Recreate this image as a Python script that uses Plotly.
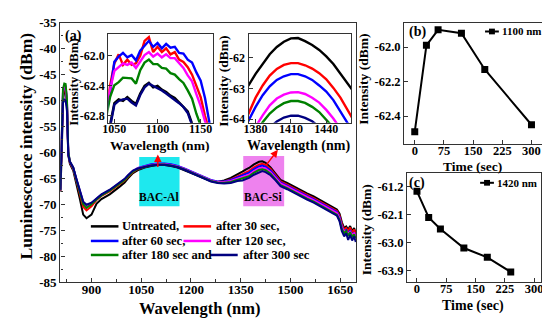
import plotly.graph_objects as go

# ---------------- main spectra (panel a) ----------------
W = [806, 810, 814, 818, 822, 826, 830, 835, 845, 855, 865, 875, 885, 900, 915, 930, 955, 985,
     1000, 1010, 1025, 1040, 1060, 1080, 1100, 1120, 1140, 1160, 1180, 1200, 1220, 1240, 1260, 1280,
     1300, 1320, 1340, 1355, 1365, 1375, 1390, 1405, 1415, 1425, 1440, 1455, 1470, 1490, 1510, 1530,
     1550, 1570, 1590, 1610, 1630, 1640, 1648, 1655, 1662, 1668, 1674, 1680, 1686, 1692, 1697]

untreated = [-67.6, -61.0, -50.0, -48.2, -48.0, -51.0, -60.5, -62.2, -63.5, -66.0, -69.0, -72.0, -72.7, -72.0, -69.9, -69.0, -68.1, -66.6,
             -65.8, -65.0, -64.0, -63.4, -62.9, -62.6, -62.45, -62.45, -62.6, -62.9, -63.4, -63.9, -64.4, -65.0, -65.5, -65.7,
             -65.4, -64.9, -64.3, -63.7, -63.3, -63.0, -62.3, -61.8, -61.7, -62.0, -62.9, -64.2, -65.3, -65.9, -66.6, -67.3,
             -67.9, -68.5, -69.2, -69.9, -70.6, -71.0, -71.8, -73.5, -74.6, -74.3, -74.9, -74.2, -75.2, -74.6, -75.6]
s30 = [-67.4, -60.0, -49.0, -47.6, -47.5, -50.5, -60.2, -62.0, -63.2, -65.6, -68.0, -70.5, -71.2, -70.4, -69.2, -68.4, -67.5, -66.0,
       -65.4, -64.7, -63.8, -63.2, -62.75, -62.45, -62.3, -62.3, -62.45, -62.75, -63.25, -63.8, -64.3, -64.9, -65.4, -65.7,
       -65.6, -65.2, -64.6, -64.2, -63.9, -63.6, -62.9, -62.35, -62.2, -62.4, -63.2, -64.4, -65.6, -66.2, -66.9, -67.6,
       -68.2, -68.8, -69.5, -70.2, -70.9, -71.3, -72.2, -73.9, -74.9, -74.6, -75.2, -74.5, -75.5, -74.9, -75.9]
s60 = [-67.3, -59.5, -48.5, -47.3, -47.3, -50.0, -60.0, -61.8, -63.0, -65.3, -67.6, -69.6, -70.2, -69.8, -69.0, -68.2, -67.3, -65.8,
       -65.2, -64.5, -63.6, -63.0, -62.6, -62.3, -62.15, -62.15, -62.3, -62.6, -63.1, -63.65, -64.2, -64.8, -65.3, -65.6,
       -65.6, -65.3, -64.8, -64.5, -64.2, -63.9, -63.2, -62.7, -62.55, -62.75, -63.5, -64.6, -65.8, -66.4, -67.1, -67.8,
       -68.4, -69.0, -69.7, -70.4, -71.1, -71.5, -72.5, -74.3, -75.3, -75.0, -75.8, -75.0, -76.0, -75.4, -76.5]
s120 = [-67.3, -59.5, -48.2, -47.0, -47.2, -50.0, -60.0, -61.8, -63.0, -65.3, -67.6, -69.7, -70.4, -69.9, -69.0, -68.2, -67.3, -65.8,
        -65.2, -64.5, -63.6, -63.05, -62.65, -62.4, -62.25, -62.25, -62.4, -62.7, -63.2, -63.75, -64.3, -64.9, -65.4, -65.7,
        -65.7, -65.5, -65.1, -64.8, -64.6, -64.3, -63.6, -63.1, -62.95, -63.1, -63.8, -64.9, -66.0, -66.6, -67.3, -68.0,
        -68.6, -69.2, -69.9, -70.6, -71.3, -71.7, -72.7, -74.5, -75.2, -75.4, -75.6, -75.3, -75.9, -75.6, -76.3]
s180 = [-67.3, -59.0, -47.8, -46.7, -46.8, -49.6, -59.8, -61.8, -63.0, -65.4, -67.8, -70.0, -70.7, -70.0, -69.1, -68.3, -67.4, -65.9,
        -65.3, -64.6, -63.7, -63.15, -62.75, -62.5, -62.35, -62.35, -62.5, -62.8, -63.3, -63.85, -64.4, -65.0, -65.5, -65.8,
        -65.85, -65.7, -65.3, -65.1, -64.9, -64.6, -63.9, -63.4, -63.25, -63.4, -64.1, -65.2, -66.3, -66.9, -67.6, -68.3,
        -68.9, -69.5, -70.2, -70.9, -71.6, -72.0, -73.0, -74.8, -75.6, -75.2, -76.1, -75.4, -76.3, -75.8, -76.6]
s300 = [-67.2, -60.5, -50.5, -49.8, -50.0, -52.0, -60.5, -61.8, -62.9, -65.2, -67.5, -69.5, -70.1, -69.7, -68.9, -68.1, -67.2, -65.7,
        -65.1, -64.4, -63.5, -63.1, -62.75, -62.5, -62.4, -62.4, -62.55, -62.85, -63.35, -63.9, -64.5, -65.1, -65.6, -65.9,
        -66.0, -65.9, -65.5, -65.4, -65.2, -64.9, -64.3, -63.8, -63.6, -63.8, -64.4, -65.4, -66.5, -67.1, -67.8, -68.5,
        -69.1, -69.7, -70.4, -71.1, -71.8, -72.2, -73.3, -75.2, -76.2, -75.6, -76.9, -75.9, -77.0, -76.2, -77.3]

# ---------------- inset 1 (BAC-Al, around 1100 nm) ----------------
W1 = [1040, 1045, 1050, 1055, 1060, 1065, 1070, 1075, 1080, 1085, 1090, 1095, 1100, 1105, 1110, 1115,
      1120, 1125, 1130, 1135, 1140, 1145, 1150, 1155, 1160, 1165]
i1_untreated = [-63.1, -62.92, -62.63, -62.58, -62.6, -62.55, -62.6, -62.64, -62.5, -62.4, -62.36, -62.42, -62.4,
                -62.45, -62.48, -62.53, -62.56, -62.62, -62.67, -62.74, -62.9, -63.08, -63.22, -63.38, -63.5, -63.6]
i1_s30 = [-62.7, -62.4, -62.1, -61.98, -62.12, -62.05, -62.12, -62.1, -62.0, -61.8, -61.75, -61.95, -61.88,
          -61.95, -61.9, -61.98, -61.95, -62.05, -62.08, -62.15, -62.25, -62.4, -62.55, -62.8, -63.0, -63.2]
i1_s60 = [-62.8, -62.5, -62.08, -62.01, -61.96, -62.02, -61.99, -62.06, -61.93, -61.87, -61.8, -61.88, -61.83,
          -61.9, -61.84, -61.89, -61.88, -61.96, -61.97, -62.05, -62.09, -62.22, -62.33, -62.56, -62.88, -63.2]
i1_s120 = [-62.7, -62.44, -62.2, -62.15, -62.1, -62.12, -62.09, -62.16, -62.08, -61.99, -61.95, -62.01, -61.97,
           -62.02, -61.98, -62.03, -62.03, -62.1, -62.16, -62.26, -62.34, -62.51, -62.67, -62.87, -63.0, -63.2]
i1_s180 = [-62.85, -62.55, -62.39, -62.35, -62.29, -62.29, -62.3, -62.37, -62.19, -62.09, -62.05, -62.11, -62.11,
           -62.16, -62.17, -62.23, -62.25, -62.31, -62.36, -62.46, -62.57, -62.77, -62.95, -63.1, -63.25, -63.4]
i1_s300 = [-63.1, -62.95, -62.65, -62.6, -62.58, -62.57, -62.62, -62.66, -62.52, -62.42, -62.37, -62.4, -62.42,
           -62.46, -62.5, -62.54, -62.58, -62.63, -62.68, -62.76, -62.92, -63.1, -63.25, -63.4, -63.5, -63.6]

# ---------------- inset 2 (BAC-Si, around 1410 nm) ----------------
W2 = [1368, 1374, 1380, 1386, 1392, 1398, 1404, 1410, 1416, 1422, 1428, 1434, 1440, 1446, 1452, 1458, 1464]
i2_untreated = [-63.2, -62.9, -62.52, -62.18, -61.88, -61.64, -61.47, -61.36, -61.35, -61.45, -61.58, -61.74,
                -61.95, -62.2, -62.5, -62.82, -63.15]
i2_s30 = [-64.2, -63.82, -63.3, -62.9, -62.58, -62.36, -62.23, -62.17, -62.17, -62.24, -62.35, -62.5,
          -62.7, -62.98, -63.3, -63.7, -64.1]
i2_s60 = [-64.5, -64.05, -63.6, -63.22, -62.93, -62.72, -62.6, -62.53, -62.53, -62.6, -62.72, -62.9,
          -63.1, -63.38, -63.72, -64.1, -64.5]
i2_s120 = [-65.0, -64.6, -64.25, -63.88, -63.55, -63.33, -63.2, -63.13, -63.12, -63.18, -63.3, -63.46,
           -63.7, -63.98, -64.3, -64.65, -65.0]
i2_s180 = [-65.3, -64.85, -64.45, -64.1, -63.82, -63.62, -63.48, -63.41, -63.41, -63.47, -63.6, -63.77,
           -64.0, -64.28, -64.6, -64.95, -65.3]
i2_s300 = [-65.7, -65.3, -64.9, -64.55, -64.28, -64.08, -63.95, -63.89, -63.89, -63.96, -64.07, -64.23,
           -64.45, -64.72, -65.0, -65.35, -65.7]

# ---------------- panels b and c ----------------
T_B = [0, 30, 60, 120, 180, 300]
I_B = [-62.49, -61.99, -61.90, -61.92, -62.13, -62.45]
T_C = [0, 30, 60, 120, 180, 240]
I_C = [-61.35, -62.19, -62.56, -63.17, -63.47, -63.94]

# tick values
MAIN_X_TICKS = [900, 1050, 1200, 1350, 1500, 1650]
MAIN_Y_TICKS = [-35, -40, -45, -50, -55, -60, -65, -70, -75, -80, -85]
IN1_X_TICKS = [1050, 1100, 1150]
IN1_Y_TICKS = [-62.0, -62.4, -62.8]
IN2_X_TICKS = [1380, 1410, 1440]
IN2_Y_TICKS = [-62, -63, -64]
B_X_TICKS = [0, 75, 150, 225, 300]
B_Y_TICKS = [-62.0, -62.2, -62.4]
C_X_TICKS = [0, 75, 150, 225, 300]
C_Y_TICKS = [-61.2, -62.1, -63.0, -63.9]

LABELS = ["Untreated,", "after 30 sec,", "after 60 sec,", "after 120 sec,", "after 180 sec and", "after 300 sec"]
COLORS = ["#000000", "#FF0000", "#0000FF", "#FF00FF", "#008000", "#000080"]

FONT = "Liberation Serif"
W_PX, H_PX = 550, 322


def X(px):
    return px / W_PX


def Y(py):
    return 1 - py / H_PX


def fmt(vals, dec):
    return [("-" if v < 0 else "") + f"{abs(v):.{dec}f}" for v in vals]


fig = go.Figure()

main_sets = [untreated, s30, s60, s120, s180, s300]
in1_sets = [i1_untreated, i1_s30, i1_s60, i1_s120, i1_s180, i1_s300]
in2_sets = [i2_untreated, i2_s30, i2_s60, i2_s120, i2_s180, i2_s300]

for vals, col in zip(main_sets, COLORS):
    fig.add_trace(go.Scatter(x=W, y=vals, mode="lines", line=dict(color=col, width=2),
                             xaxis="x", yaxis="y", showlegend=False, hoverinfo="skip"))
for vals, col in zip(in1_sets, COLORS):
    fig.add_trace(go.Scatter(x=W1, y=vals, mode="lines", line=dict(color=col, width=2.4),
                             xaxis="x2", yaxis="y2", showlegend=False, hoverinfo="skip"))
for vals, col in zip(in2_sets, COLORS):
    fig.add_trace(go.Scatter(x=W2, y=vals, mode="lines", line=dict(color=col, width=2.4),
                             xaxis="x3", yaxis="y3", showlegend=False, hoverinfo="skip"))

fig.add_trace(go.Scatter(x=T_B, y=I_B, mode="lines+markers", line=dict(color="black", width=2),
                         marker=dict(symbol="square", size=7, color="black"),
                         xaxis="x4", yaxis="y4", showlegend=False))
fig.add_trace(go.Scatter(x=T_C, y=I_C, mode="lines+markers", line=dict(color="black", width=2),
                         marker=dict(symbol="square", size=7, color="black"),
                         xaxis="x5", yaxis="y5", showlegend=False))

FRAME = "#333333"


def ax(domain, rng, anchor, size, tv, tt, **kw):
    d = dict(domain=domain, range=rng, anchor=anchor, showline=True, linecolor=FRAME, linewidth=1.4,
             mirror=True, ticks="inside", ticklen=4, tickwidth=1.2, tickcolor=FRAME, showgrid=False,
             zeroline=False, tickmode="array", tickvals=tv, ticktext=tt,
             tickfont=dict(family=FONT, size=size, color="black", weight="bold"))
    d.update(kw)
    return d


layout = dict(
    width=W_PX, height=H_PX, margin=dict(l=0, r=0, t=0, b=0),
    paper_bgcolor="white", plot_bgcolor="white",
    font=dict(family=FONT, size=13, color="black", weight="bold"),
    xaxis=ax([X(47), X(347)], [806, 1697.5], "y", 13, MAIN_X_TICKS, fmt(MAIN_X_TICKS, 0),
             ticklabelstandoff=-5,
             minor=dict(tickvals=[825, 975, 1125, 1275, 1425, 1575], ticks="inside", ticklen=2.5,
                        tickcolor=FRAME)),
    yaxis=ax([Y(280), Y(8.3)], [-85, -35], "x", 13, MAIN_Y_TICKS, fmt(MAIN_Y_TICKS, 0),
             minor=dict(tickvals=[-37.5, -42.5, -47.5, -52.5, -57.5, -62.5, -67.5, -72.5, -77.5, -82.5],
                        ticks="inside", ticklen=2.5, tickcolor=FRAME)),
    xaxis2=ax([X(95.7), X(201.7)], [1043, 1164], "y2", 12, IN1_X_TICKS, fmt(IN1_X_TICKS, 0),
              linewidth=1.2, ticklabelstandoff=-5),
    yaxis2=ax([Y(113), Y(20)], [-62.89, -61.71], "x2", 12, IN1_Y_TICKS, fmt(IN1_Y_TICKS, 1), linewidth=1.2),
    xaxis3=ax([X(238), X(342)], [1374, 1461], "y3", 12, IN2_X_TICKS, fmt(IN2_X_TICKS, 0),
              linewidth=1.2, ticklabelstandoff=-5),
    yaxis3=ax([Y(113), Y(20)], [-64.12, -61.22], "x3", 12, IN2_Y_TICKS, fmt(IN2_Y_TICKS, 0), linewidth=1.2),
    xaxis4=ax([X(396), X(541.7)], [-27, 342], "y4", 12.5, B_X_TICKS, fmt(B_X_TICKS, 0), ticklabelstandoff=-5),
    yaxis4=ax([Y(135), Y(8.3)], [-62.56, -61.86], "x4", 12.5, B_Y_TICKS, fmt(B_Y_TICKS, 1)),
    xaxis5=ax([X(399), X(535)], [-25, 318], "y5", 12.5, C_X_TICKS, fmt(C_X_TICKS, 0), ticklabelstandoff=-5),
    yaxis5=ax([Y(280), Y(165.7)], [-64.26, -60.76], "x5", 12.5, C_Y_TICKS, fmt(C_Y_TICKS, 1)),
)
fig.update_layout(**layout)

shapes = []
annotations = []

# highlighted bands in panel (a)
shapes.append(dict(type="rect", xref="x", yref="y", x0=1044, x1=1165.5, y0=-70.4, y1=-60.9,
                   fillcolor="#1EE8EE", line=dict(width=0), layer="below"))
shapes.append(dict(type="rect", xref="x", yref="y", x0=1357.6, x1=1481, y0=-70.4, y1=-60.7,
                   fillcolor="#EE82EE", line=dict(width=0), layer="below"))


def text(px, py, s, size, xanchor="center", angle=0, color="black"):
    annotations.append(dict(x=X(px), y=Y(py), xref="paper", yref="paper", text=s, showarrow=False,
                            xanchor=xanchor, yanchor="middle", textangle=angle,
                            font=dict(family=FONT, size=size, color=color, weight="bold")))


# axis titles
text(12, 137, "Luminescence intensity (dBm)", 17.5, angle=-90)
text(188, 308, "Wavelength (nm)", 16.5)
text(61, 70, "Intensity (dBm)", 13, angle=-90)
text(148, 137, "Wavelength (nm)", 13.5)
text(213, 69, "Intensity (dBm)", 13.5, angle=-90)
text(289, 137, "Wavelength (nm)", 14)
text(355, 67, "Intensity (dBm)", 13.5, angle=-90)
text(465, 158.5, "Time (sec)", 13.5)
text(358, 225, "Intensity (dBm)", 13.5, angle=-90)
text(466, 305, "Time (sec)", 14)

# panel labels
text(60, 22, "(a)", 14)
text(409, 17.5, "(b)", 14)
text(409, 176, "(c)", 14)
text(147.5, 191, "BAC-Al", 11.5)
text(253.5, 191, "BAC-Si", 11.5)

# red arrows
annotations.append(dict(x=1100, y=-60.4, xref="x", yref="y", ax=0, ay=14,
                        showarrow=True, arrowhead=2, arrowsize=1, arrowwidth=1.5, arrowcolor="#FF0000", text=""))
annotations.append(dict(x=1462, y=-59.5, xref="x", yref="y", ax=-13, ay=17, showarrow=True,
                        arrowhead=2, arrowsize=1, arrowwidth=1.5, arrowcolor="#FF0000", text=""))

# legend of panel (a)
rows = [221.7, 237, 251.7]
entries = [(78, 106, 108, 0, 0), (172, 200, 203, 0, 1),
           (78, 106, 108, 1, 2), (172, 200, 203, 1, 3),
           (78, 106, 108, 2, 4), (199, 227, 230, 2, 5)]
for x0, x1, tx, r, k in entries:
    shapes.append(dict(type="line", xref="paper", yref="paper", x0=X(x0), x1=X(x1), y0=Y(rows[r]),
                       y1=Y(rows[r]), line=dict(color=COLORS[k], width=2.5)))
    text(tx, rows[r], LABELS[k], 12.5, xanchor="left")

# legends of panels (b) and (c)
for (lx0, lx1, ly, label) in [(478, 492, 17.3, "1100 nm"), (473, 487, 176, "1420 nm")]:
    shapes.append(dict(type="line", xref="paper", yref="paper", x0=X(lx0), x1=X(lx1), y0=Y(ly), y1=Y(ly),
                       line=dict(color="black", width=2)))
    cx = (lx0 + lx1) / 2
    shapes.append(dict(type="rect", xref="paper", yref="paper", x0=X(cx - 3), x1=X(cx + 3),
                       y0=Y(ly + 3), y1=Y(ly - 3), fillcolor="black", line=dict(width=0)))
    text(lx1 + 1, ly, label, 11, xanchor="left")

fig.update_layout(shapes=shapes, annotations=annotations)
fig.write_html("out.html")
